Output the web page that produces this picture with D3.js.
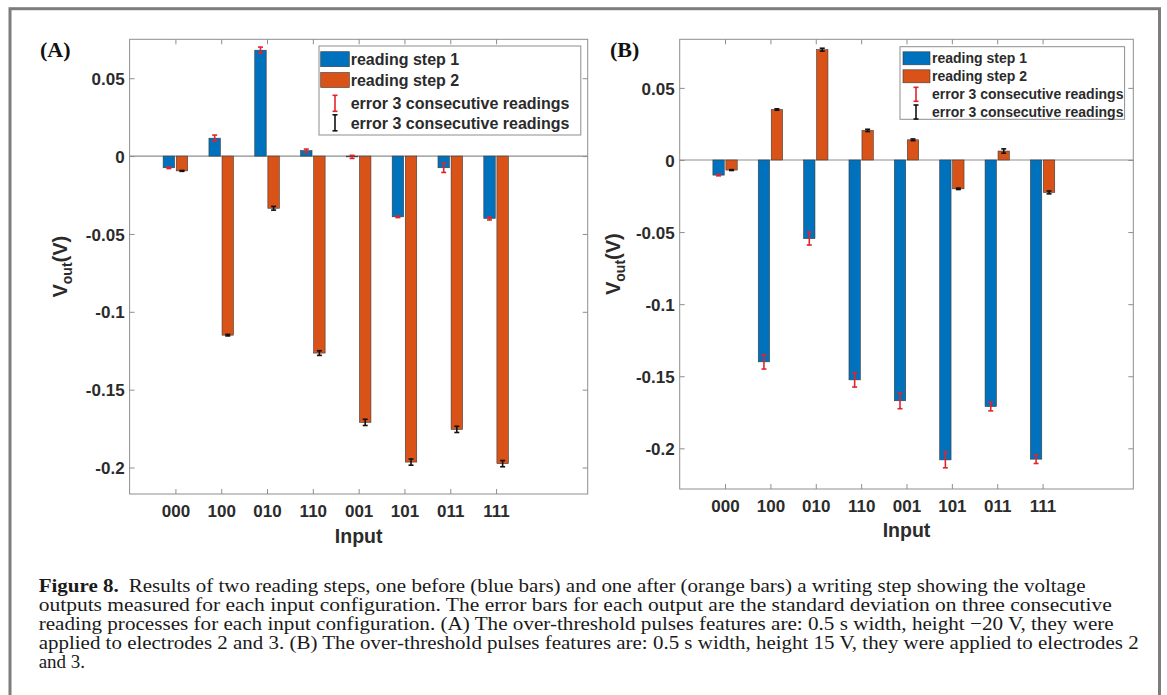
<!DOCTYPE html>
<html>
<head>
<meta charset="utf-8">
<style>
  body { margin: 0; background: #fff; }
  svg text { font-family: "Liberation Sans", Arial, sans-serif; }
  .cap { font-family: "Liberation Serif", "Times New Roman", serif !important; font-size: 19px; fill: #1a1a1a; }
</style>
</head>
<body>
<svg id="fig" width="1167" height="695"></svg>
<script src="https://d3js.org/d3.v7.min.js"></script>
<script>
var inputs = ["000", "100", "010", "110", "001", "101", "011", "111"];

// (A) readings, V
var stepA1 = [-0.0075, 0.0115, 0.068, 0.0035, -0.0005, -0.039, -0.0075, -0.040];
var stepA2 = [-0.0095, -0.115, -0.0335, -0.1265, -0.171, -0.1965, -0.1755, -0.1975];
var errA1 = [0.0005, 0.002, 0.002, 0.001, 0.001, 0.0005, 0.003, 0.001];
var errA2 = [0.0003, 0.0005, 0.0012, 0.0015, 0.002, 0.002, 0.002, 0.002];

// (B) readings, V
var stepB1 = [-0.0105, -0.140, -0.0545, -0.1525, -0.167, -0.208, -0.171, -0.2075];
var stepB2 = [-0.007, 0.035, 0.0765, 0.0205, 0.014, -0.020, 0.0062, -0.0225];
var errB1 = [0.0005, 0.005, 0.0045, 0.005, 0.0055, 0.0055, 0.003, 0.003];
var errB2 = [0.0003, 0.0005, 0.001, 0.0008, 0.0006, 0.0005, 0.0015, 0.001];

var yTicks = [-0.2, -0.15, -0.1, -0.05, 0, 0.05];
var legendLabels = ["reading step 1", "reading step 2", "error 3 consecutive readings", "error 3 consecutive readings"];

var captionLines = [
  "Results of two reading steps, one before (blue bars) and one after (orange bars) a writing step showing the voltage",
  "outputs measured for each input configuration. The error bars for each output are the standard deviation on three consecutive",
  "reading processes for each input configuration. (A) The over-threshold pulses features are: 0.5 s width, height \u221220 V, they were",
  "applied to electrodes 2 and 3. (B) The over-threshold pulses features are: 0.5 s width, height 15 V, they were applied to electrodes 2",
  "and 3."
];
var captionWidths = [1047, 1073, 1075, 1100, null];

var blue = "#0072bd", orange = "#d95319", red = "#e3232c", axisCol = "#8e8e8e", txt = "#2b2b2b";

var svg = d3.select("#fig");

// outer frame
svg.append("rect").attr("x", 10).attr("y", 8.7).attr("width", 1149.5).attr("height", 720)
  .attr("fill", "none").attr("stroke", "#7d7d7d").attr("stroke-width", 3);

function panel(o) {
  var x = d3.scaleLinear().domain([0, 10]).range([o.left, o.right]);
  var y = d3.scaleLinear().domain(o.ydom).range([o.bottom, o.top]);
  var g = svg.append("g");

  g.append("rect").attr("x", o.left).attr("y", o.top)
    .attr("width", o.right - o.left).attr("height", o.bottom - o.top)
    .attr("fill", "#fff").attr("stroke", axisCol).attr("stroke-width", 1);

  var tickX = d3.range(1, inputs.length + 1);
  var fmt = function(d) { return d === 0 ? "0" : String(+d.toFixed(2)); };

  var ax = g.append("g").attr("transform", "translate(0," + o.bottom + ")")
    .call(d3.axisBottom(x).tickValues(tickX).tickFormat(function(d) { return inputs[d - 1]; })
      .tickSizeInner(-5).tickSizeOuter(0).tickPadding(o.xpad));
  var at = g.append("g").attr("transform", "translate(0," + o.top + ")")
    .call(d3.axisTop(x).tickValues(tickX).tickFormat("").tickSizeInner(-5).tickSizeOuter(0));
  var ay = g.append("g").attr("transform", "translate(" + o.left + ",0)")
    .call(d3.axisLeft(y).tickValues(yTicks).tickFormat(fmt).tickSizeInner(-5).tickSizeOuter(0).tickPadding(5));
  var ar = g.append("g").attr("transform", "translate(" + o.right + ",0)")
    .call(d3.axisRight(y).tickValues(yTicks).tickFormat("").tickSizeInner(-5).tickSizeOuter(0));
  [ax, at, ay, ar].forEach(function(a) {
    a.select(".domain").remove();
    a.selectAll("line").attr("stroke", axisCol);
    a.selectAll("text").attr("font-size", 17).attr("font-weight", "bold").attr("fill", txt)
      .style("font-family", "'Liberation Sans', Arial, sans-serif");
  });
  ay.selectAll("text").attr("dy", "0.36em");

  // zero baseline
  g.append("line").attr("x1", o.left).attr("x2", o.right).attr("y1", y(0)).attr("y2", y(0))
    .attr("stroke", axisCol).attr("stroke-width", 1.2);

  var series = [
    { v: o.s1, e: o.e1, fill: blue, ec: red, off: -0.143 },
    { v: o.s2, e: o.e2, fill: orange, ec: "#111", off: 0.143 }
  ];
  var bw = 0.25;
  series.forEach(function(s) {
    g.selectAll(null).data(s.v).enter().append("rect")
      .attr("x", function(d, i) { return x(i + 1 + s.off - bw / 2); })
      .attr("width", x(bw) - x(0))
      .attr("y", function(d) { return y(Math.max(0, d)); })
      .attr("height", function(d) { return Math.abs(y(d) - y(0)); })
      .attr("fill", s.fill).attr("stroke", "#3a3a3a").attr("stroke-width", 0.6);
  });
  series.forEach(function(s) {
    var eg = g.selectAll(null).data(s.v).enter().append("g")
      .attr("stroke", s.ec).attr("stroke-width", 1.6);
    eg.append("line")
      .attr("x1", function(d, i) { return x(i + 1 + s.off); })
      .attr("x2", function(d, i) { return x(i + 1 + s.off); })
      .attr("y1", function(d, i) { return y(d - s.e[i]); })
      .attr("y2", function(d, i) { return y(d + s.e[i]); });
    [-1, 1].forEach(function(sg) {
      eg.append("line")
        .attr("x1", function(d, i) { return x(i + 1 + s.off) - 2.5; })
        .attr("x2", function(d, i) { return x(i + 1 + s.off) + 2.5; })
        .attr("y1", function(d, i) { return y(d + sg * s.e[i]); })
        .attr("y2", function(d, i) { return y(d + sg * s.e[i]); });
    });
  });

  // axis titles
  var cx = (o.left + o.right) / 2;
  g.append("text").attr("x", cx).attr("y", o.inputY).attr("text-anchor", "middle")
    .attr("font-size", 19.5).attr("font-weight", "bold").attr("fill", txt).text("Input");
  var yl = g.append("text").attr("transform", "translate(" + o.ylabX + "," + ((o.top + o.bottom) / 2) + ") rotate(-90)")
    .attr("text-anchor", "middle").attr("font-size", 20).attr("font-weight", "bold").attr("fill", txt);
  yl.append("tspan").text("V");
  yl.append("tspan").attr("font-size", 14).attr("dy", 5).text("out");
  yl.append("tspan").attr("dy", -5).text("(V)");

  g.append("text").attr("x", o.tagX).attr("y", 57)
    .style("font-family", "'Liberation Serif', 'Times New Roman', serif")
    .attr("font-size", 22).attr("font-weight", "bold").attr("fill", "#111").text(o.tag);

  // legend
  var L = o.leg;
  g.append("rect").attr("x", L.x0).attr("y", L.y0).attr("width", L.x1 - L.x0).attr("height", L.y1 - L.y0)
    .attr("fill", "#fff").attr("stroke", axisCol).attr("stroke-width", 1);
  legendLabels.forEach(function(lab, i) {
    var cy = L.rows[i];
    if (i < 2) {
      g.append("rect").attr("x", L.sx0).attr("y", cy - L.sh / 2).attr("width", L.sx1 - L.sx0).attr("height", L.sh)
        .attr("fill", i === 0 ? blue : orange).attr("stroke", "#3a3a3a").attr("stroke-width", 0.6);
    } else {
      var c = i === 2 ? red : "#111";
      var h = L.ih / 2;
      var ig = g.append("g").attr("stroke", c).attr("stroke-width", 1.6);
      ig.append("line").attr("x1", L.ix).attr("x2", L.ix).attr("y1", cy - h).attr("y2", cy + h);
      ig.append("line").attr("x1", L.ix - 2.5).attr("x2", L.ix + 2.5).attr("y1", cy - h).attr("y2", cy - h);
      ig.append("line").attr("x1", L.ix - 2.5).attr("x2", L.ix + 2.5).attr("y1", cy + h).attr("y2", cy + h);
    }
    g.append("text").attr("x", L.tx).attr("y", cy).attr("dy", "0.36em")
      .attr("font-size", L.fs).attr("font-weight", "bold").attr("fill", txt).text(lab);
  });
}

panel({
  left: 129.6, right: 587.7, top: 39.3, bottom: 494, ydom: [-0.217, 0.075],
  s1: stepA1, s2: stepA2, e1: errA1, e2: errA2, xpad: 11, inputY: 543, ylabX: 66.5, tag: "(A)", tagX: 40,
  leg: { x0: 319, x1: 580.8, y0: 46, y1: 135, rows: [59.2, 80, 103.3, 122.8], sx0: 320.7, sx1: 349.3, sh: 15,
         ix: 335, ih: 16, tx: 350.7, fs: 16 }
});

panel({
  left: 679.7, right: 1133.3, top: 39.3, bottom: 489, ydom: [-0.2282, 0.0837],
  s1: stepB1, s2: stepB2, e1: errB1, e2: errB2, xpad: 11, inputY: 537, ylabX: 620, tag: "(B)", tagX: 610,
  leg: { x0: 900, x1: 1124.6, y0: 46.7, y1: 119.3, rows: [58.3, 76.3, 94.3, 112], sx0: 903, sx1: 930, sh: 13,
         ix: 916, ih: 14, tx: 932, fs: 14 }
});

// caption
var capBase = [592, 611, 630, 649, 668];
captionLines.forEach(function(line, i) {
  var t = svg.append("text").attr("class", "cap").attr("x", 38.7).attr("y", capBase[i]);
  if (i === 0) {
    t.append("tspan").attr("font-weight", "bold").text("Figure 8.");
    t.append("tspan").attr("dx", 9).text(line);
  } else {
    t.text(line);
  }
  if (captionWidths[i]) t.attr("textLength", captionWidths[i]).attr("lengthAdjust", "spacingAndGlyphs");
});
</script>
</body>
</html>
